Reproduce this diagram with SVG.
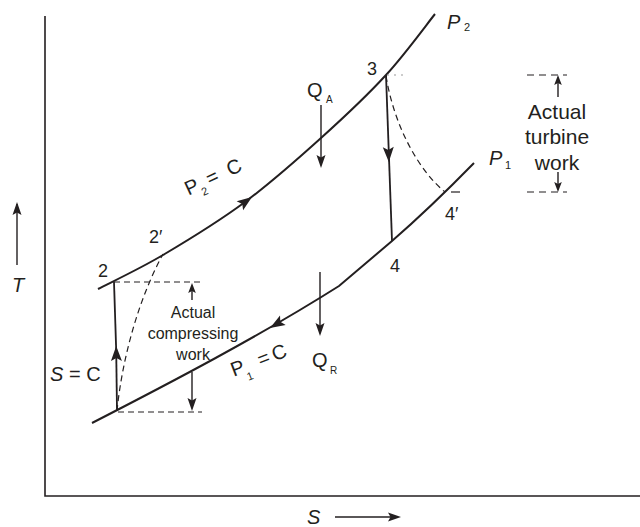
<svg xmlns="http://www.w3.org/2000/svg" xmlns:xlink="http://www.w3.org/1999/xlink" width="640" height="527" viewBox="0 0 640 527">
<style>
  .ln{fill:none;stroke:#231f20;stroke-width:1.4;stroke-linecap:butt}
  .cv{fill:none;stroke:#231f20;stroke-width:2}
  .ds{fill:none;stroke:#231f20;stroke-width:1.2;stroke-dasharray:6 4}
  .dt{fill:none;stroke:#231f20;stroke-width:1.2;stroke-dasharray:7 5}
  .ah{fill:#231f20}
  text{font-family:"Liberation Sans",Arial,Helvetica,sans-serif;fill:#231f20}
  .lb{font-size:20px}
  .it{font-style:italic}
  .dg{font-size:18px}
  .sb{font-size:11px}
  .tw{font-size:21px;text-anchor:middle}
  .cw{font-size:16px;text-anchor:middle}
</style>
<defs>
  <path id="ahL" class="ah" d="M0,0 L-15,-5.5 L-12,0 L-15,5.5 Z"/>
  <path id="ahM" class="ah" d="M0,0 L-13,-4.5 L-10.5,0 L-13,4.5 Z"/>
  <path id="ahS" class="ah" d="M0,0 L-10,-3.8 L-8,0 L-10,3.8 Z"/>
</defs>

<g id="axes">
  <polyline class="ln" points="45,16 45,496 640,496" style="stroke-width:1.6"/>
  <line class="ln" x1="17" y1="265" x2="17" y2="204"/>
  <use href="#ahM" transform="translate(17,202) rotate(-90)"/>
  <text class="lb it" x="12" y="292">T</text>
  <line class="ln" x1="335" y1="517" x2="398" y2="517"/>
  <use href="#ahM" transform="translate(401,517)"/>
  <text class="lb it" x="307" y="524">S</text>
</g>

<g id="connectors">
  <path id="p2-curve" class="cv" d="M98,289 C108.8,283.3 138.5,269.5 163,255 C187.5,240.5 218.7,221.5 245,202 C271.3,182.5 297.5,159.2 321,138 C344.5,116.8 367,95.7 386,75 C405,54.3 426.8,24.2 435,14"/>
  <use href="#ahL" transform="translate(252,197) rotate(-36)"/>
  <path id="p1-curve" class="cv" d="M92,423 C170,383 260,336 339,286 L392,241 Q430,208 474,163"/>
  <use href="#ahL" transform="translate(270,328) rotate(149)"/>
  <line class="ln" x1="117" y1="411" x2="116.2" y2="350" style="stroke-width:1.8"/>
  <line class="ln" x1="116.2" y1="350" x2="114" y2="282" style="stroke-width:1.8"/>
  <use href="#ahL" transform="translate(116.2,346) rotate(-91)"/>
  <line class="ln" x1="386" y1="75" x2="392" y2="241" style="stroke-width:1.8"/>
  <use href="#ahL" transform="translate(388.8,162) rotate(88)"/>
  <path class="ds" d="M117,411 C122,360 138,300 163,254"/>
  <path class="ds" d="M386,76 C394,125 418,170 445,192"/>
  <line class="ln" x1="321" y1="105" x2="321" y2="160"/>
  <use href="#ahM" transform="translate(321,168) rotate(90)"/>
  <line class="ln" x1="320" y1="272" x2="320" y2="328"/>
  <use href="#ahM" transform="translate(320,336) rotate(90)"/>
  <line class="ds" x1="114" y1="282" x2="202" y2="282"/>
  <line class="ds" x1="118" y1="412" x2="202" y2="412"/>
  <line class="ln" x1="192" y1="300" x2="192" y2="288"/>
  <use href="#ahS" transform="translate(192,283) rotate(-90)"/>
  <line class="ln" x1="192" y1="372" x2="192" y2="402"/>
  <use href="#ahM" transform="translate(192,411) rotate(90)"/>
  <line x1="387" y1="75" x2="408" y2="75" style="stroke:#999;stroke-width:1;stroke-dasharray:2 5"/>
  <line class="ln" x1="451" y1="192" x2="460" y2="192" style="stroke-width:1.2"/>
  <line class="dt" x1="527" y1="75" x2="567" y2="75"/>
  <line class="dt" x1="527" y1="192" x2="567" y2="192"/>
  <line class="ln" x1="558" y1="97" x2="558" y2="81"/>
  <use href="#ahS" transform="translate(558,75) rotate(-90)"/>
  <line class="ln" x1="558" y1="172" x2="558" y2="186"/>
  <use href="#ahS" transform="translate(558,192) rotate(90)"/>
</g>

<g id="labels">
  <g id="label-p2">
    <text class="lb it" x="447" y="29">P</text>
    <text class="sb" x="464" y="31">2</text>
  </g>
  <g id="label-p1">
    <text class="lb it" x="489" y="165">P</text>
    <text class="sb" x="505" y="169">1</text>
  </g>
  <g id="node-3"><text class="dg" x="367" y="75">3</text></g>
  <g id="node-4"><text class="dg" x="390" y="272">4</text></g>
  <g id="node-4p"><text class="dg" x="445" y="220">4′</text></g>
  <g id="node-2"><text class="dg" x="98" y="277">2</text></g>
  <g id="node-2p"><text class="dg" x="149" y="243">2′</text></g>
  <g id="label-qa">
    <text class="lb" x="307" y="97">Q</text>
    <text class="sb" x="326" y="103" style="font-size:10px">A</text>
  </g>
  <g id="label-qr">
    <text class="lb" x="312" y="367">Q</text>
    <text class="sb" x="330" y="374" style="font-size:10px">R</text>
  </g>
  <g id="label-p2c" transform="translate(212.75,176.75) rotate(-25)">
    <text class="lb" x="-30" y="7">P</text>
    <text class="sb" x="-16.5" y="13.5">2</text>
    <text class="lb" x="-6.5" y="7">=</text>
    <text class="lb" x="16" y="7">C</text>
  </g>
  <g id="label-p1c" transform="translate(258.25,360) rotate(-21)">
    <text class="lb" x="-28.8" y="7">P</text>
    <text class="sb" x="-16.5" y="16">1</text>
    <text class="lb" x="-0.3" y="7">=</text>
    <text class="lb" x="14.9" y="7">C</text>
  </g>
  <g id="label-sc">
    <text class="lb" x="50" y="381"><tspan class="it">S</tspan> = C</text>
  </g>
  <g id="label-turbine">
    <text class="tw" x="557" y="119">Actual</text>
    <text class="tw" x="557" y="144">turbine</text>
    <text class="tw" x="557" y="170">work</text>
  </g>
  <g id="label-compress">
    <text class="cw" x="193" y="318">Actual</text>
    <text class="cw" x="193" y="339">compressing</text>
    <text class="cw" x="193" y="360">work</text>
  </g>
</g>
</svg>
